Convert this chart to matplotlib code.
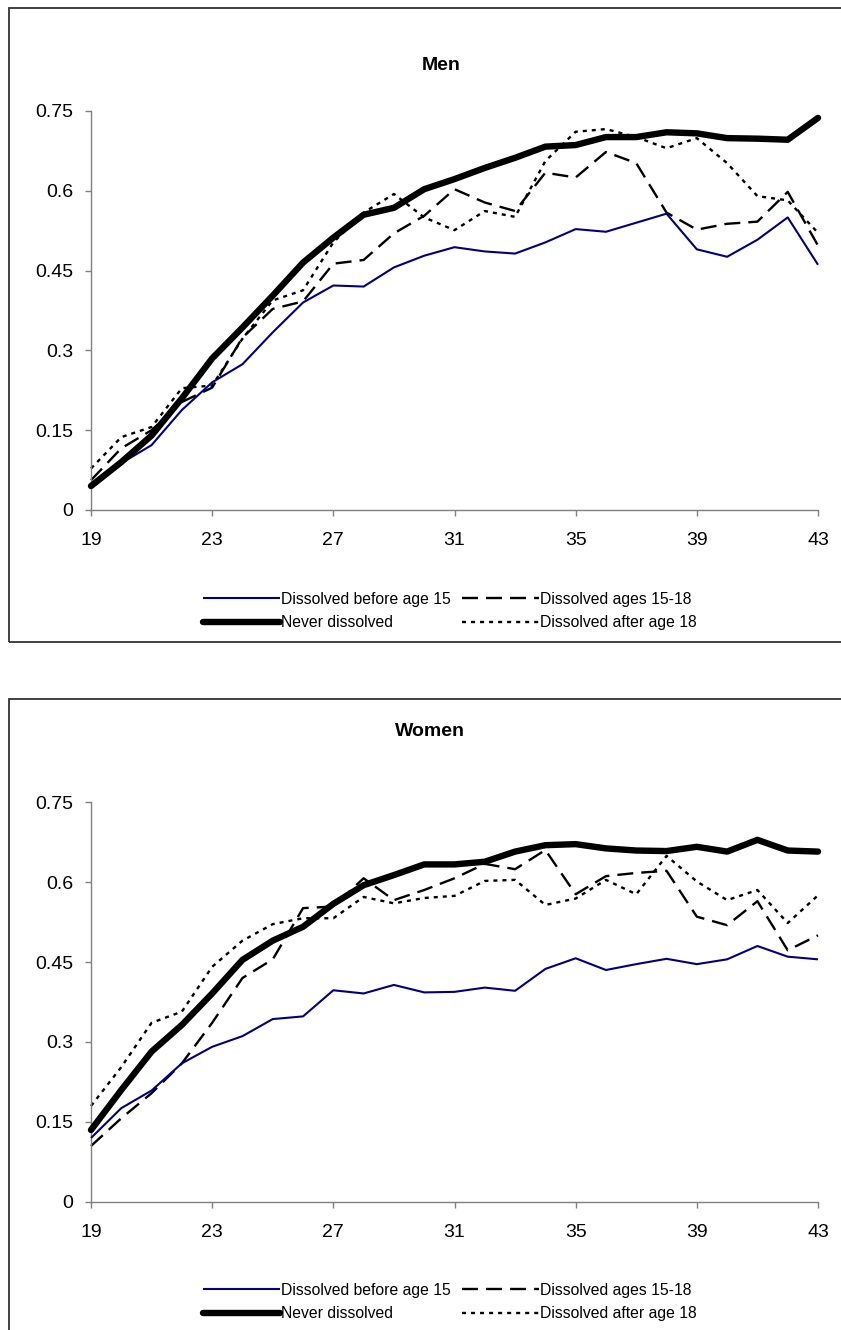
import matplotlib
matplotlib.use("Agg")
import matplotlib.pyplot as plt
from matplotlib.lines import Line2D
from matplotlib.patches import Rectangle

plt.rcParams['font.family'] = ['Liberation Sans', 'DejaVu Sans']
plt.rcParams['lines.scale_dashes'] = False

ages = list(range(19, 44))
xticks = [19, 23, 27, 31, 35, 39, 43]
yticks = [0, 0.15, 0.3, 0.45, 0.6, 0.75]
ytick_labels = ["0", "0.15", "0.3", "0.45", "0.6", "0.75"]
labels = ["Dissolved before age 15", "Never dissolved",
          "Dissolved ages 15-18", "Dissolved after age 18"]

men_before15 = [0.045, 0.088, 0.122, 0.188, 0.240, 0.274, 0.334, 0.390, 0.422, 0.420,
                0.456, 0.478, 0.494, 0.486, 0.482, 0.503, 0.528, 0.523, 0.540, 0.557,
                0.490, 0.476, 0.508, 0.550, 0.461]
men_never = [0.045, 0.090, 0.140, 0.210, 0.285, 0.343, 0.403, 0.465, 0.512, 0.555,
             0.568, 0.603, 0.622, 0.643, 0.662, 0.683, 0.686, 0.701, 0.701, 0.710,
             0.708, 0.699, 0.698, 0.696, 0.737]
men_15_18 = [0.056, 0.116, 0.150, 0.203, 0.230, 0.324, 0.378, 0.392, 0.463, 0.470,
             0.520, 0.553, 0.603, 0.578, 0.562, 0.634, 0.625, 0.673, 0.652, 0.559,
             0.527, 0.538, 0.542, 0.598, 0.497]
men_after18 = [0.078, 0.137, 0.156, 0.229, 0.234, 0.322, 0.394, 0.413, 0.503, 0.559,
               0.594, 0.550, 0.526, 0.562, 0.551, 0.656, 0.711, 0.716, 0.701, 0.680,
               0.699, 0.652, 0.590, 0.582, 0.521]

women_before15 = [0.120, 0.176, 0.209, 0.260, 0.291, 0.311, 0.343, 0.348, 0.397, 0.391,
                  0.407, 0.393, 0.394, 0.402, 0.396, 0.437, 0.457, 0.435, 0.446, 0.456,
                  0.446, 0.455, 0.480, 0.460, 0.455]
women_never = [0.135, 0.210, 0.282, 0.332, 0.391, 0.454, 0.490, 0.516, 0.559, 0.594,
               0.613, 0.633, 0.633, 0.638, 0.657, 0.669, 0.671, 0.663, 0.659, 0.658,
               0.666, 0.657, 0.679, 0.659, 0.657]
women_15_18 = [0.105, 0.157, 0.204, 0.260, 0.336, 0.420, 0.455, 0.551, 0.554, 0.607,
               0.566, 0.585, 0.607, 0.634, 0.624, 0.660, 0.577, 0.611, 0.617, 0.621,
               0.535, 0.519, 0.564, 0.472, 0.500]
women_after18 = [0.180, 0.253, 0.336, 0.357, 0.441, 0.490, 0.521, 0.532, 0.532, 0.572,
                 0.560, 0.570, 0.574, 0.602, 0.604, 0.557, 0.569, 0.604, 0.577, 0.649,
                 0.601, 0.566, 0.585, 0.523, 0.575]

W, H = 841, 1330
fig = plt.figure(figsize=(W / 100, H / 100), dpi=100)

styles = [
    dict(color="#000080", lw=1.5, solid_capstyle="butt"),
    dict(color="black", lw=4.6, solid_capstyle="round"),
    dict(color="black", lw=1.7, dashes=(11.5, 5.8)),
    dict(color="black", lw=1.7, dashes=(2.9, 3.6)),
]


def panel(top_px, bottom_px, title, tx, ty, data, box_top, box_bottom, leg_y):
    ax = fig.add_axes([91 / W, 1 - bottom_px / H, 727 / W, (bottom_px - top_px) / H])
    z = [3, 4, 2, 2]
    for vals, st, zz in zip(data, styles, z):
        ax.plot(ages, vals, zorder=zz, clip_on=False, **st)
    ax.set_xlim(19, 43)
    ax.set_ylim(0, 0.75)
    ax.set_xticks(xticks)
    ax.set_xticklabels([str(t) for t in xticks])
    ax.set_yticks(yticks)
    ax.set_yticklabels(ytick_labels)
    for s in ["top", "right"]:
        ax.spines[s].set_visible(False)
    for s in ["left", "bottom"]:
        ax.spines[s].set_color("#808080")
        ax.spines[s].set_linewidth(1.0)
    ax.tick_params(axis="both", direction="out", length=4, width=1.0,
                   color="#808080", labelsize=14, labelcolor="black")
    ax.tick_params(axis="x", pad=12)
    ax.tick_params(axis="y", pad=9)
    fig.text(tx / W, 1 - ty / H, title, ha="center", va="center",
             fontsize=14, fontweight="bold")
    fig.patches.append(Rectangle((9 / W, 1 - box_bottom / H), (845 - 9) / W,
                                 (box_bottom - box_top) / H, transform=fig.transFigure,
                                 fill=False, edgecolor="#333333", lw=1.3))
    handles = [Line2D([], [], **st) for st in styles]
    fig.legend(handles, labels, loc="center", ncol=2,
               bbox_to_anchor=(450 / W, 1 - leg_y / H), frameon=False,
               fontsize=11.3, handlelength=4.9, handletextpad=0.05,
               columnspacing=0.75, labelspacing=0.55)
    return ax


panel(111, 510, "Men", 441, 66,
      [men_before15, men_never, men_15_18, men_after18], 8, 642, 611)
panel(802, 1202, "Women", 430, 732,
      [women_before15, women_never, women_15_18, women_after18], 699, 1340, 1302)

fig.savefig("out.png", dpi=100)
